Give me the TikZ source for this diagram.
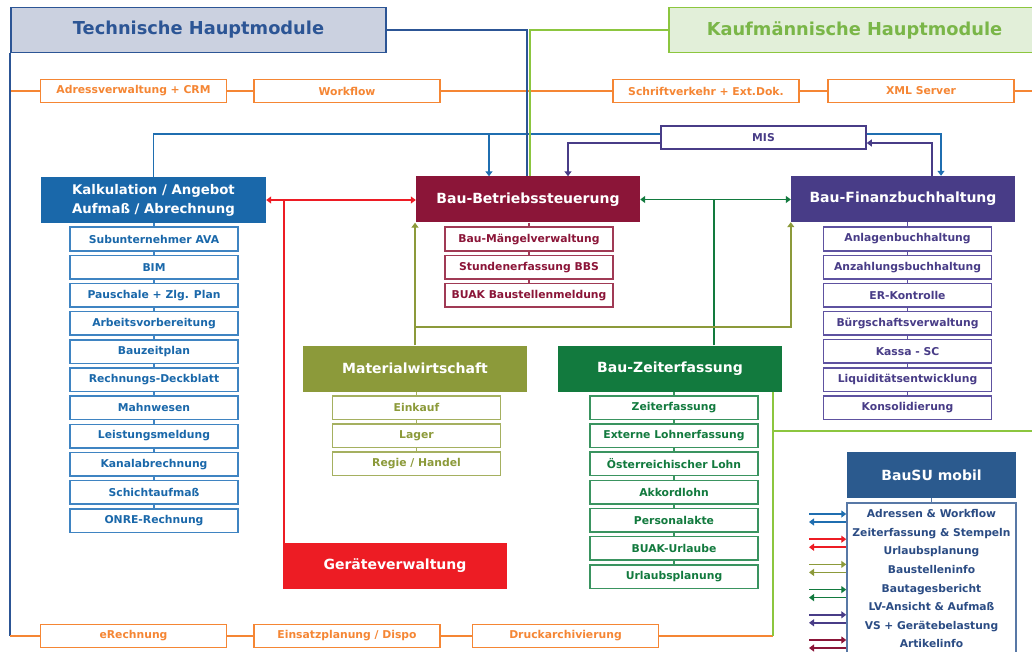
\documentclass[tikz,border=0pt]{standalone}
\usepackage{fontspec}
\setmainfont{DejaVu Sans}
\usetikzlibrary{arrows.meta}

\definecolor{techblau}{HTML}{2C5595}
\definecolor{techfill}{HTML}{CBD1E0}
\definecolor{kalkblau}{HTML}{1A68AA}
\definecolor{kalkrand}{HTML}{3F84C2}
\definecolor{linkblau}{HTML}{1F6EB0}
\definecolor{orangeton}{HTML}{F58634}
\definecolor{kaufgruen}{HTML}{8CC63F}
\definecolor{kauffill}{HTML}{E2EFD9}
\definecolor{kauftext}{HTML}{7AB648}
\definecolor{bbsrot}{HTML}{8B1538}
\definecolor{bbsrand}{HTML}{A03A55}
\definecolor{finlila}{HTML}{483C87}
\definecolor{finrand}{HTML}{5E52A0}
\definecolor{matoliv}{HTML}{8C9A3A}
\definecolor{matrand}{HTML}{A5B060}
\definecolor{zeitgruen}{HTML}{127A3E}
\definecolor{zeitrand}{HTML}{3A9460}
\definecolor{geraetrot}{HTML}{ED1C24}
\definecolor{mobilblau}{HTML}{2B5A8E}
\definecolor{mobilrand}{HTML}{5878A6}
\definecolor{mobiltext}{HTML}{2B4C84}

\tikzset{
	>={Triangle[length=5pt,width=7pt]},
	linie/.style={line width=1.8pt},
	kopf/.style={line width=1.8pt, minimum height=45, inner sep=0pt, font=\bfseries\fontsize{17.8}{20}\selectfont},
	modul/.style={fill=#1, text=white, minimum width=224, minimum height=46, inner sep=0pt, align=center, font=\bfseries\fontsize{14}{19}\selectfont},
	unter/.style 2 args={draw=#1, text=#2, fill=white, line width=1.5pt, minimum width=168, minimum height=23.5, inner sep=0pt, font=\bfseries\fontsize{10.8}{12}\selectfont},
	zusatz/.style={draw=orangeton, text=orangeton, fill=white, line width=1.5pt, minimum width=186, minimum height=23, inner sep=0pt, font=\bfseries\fontsize{10.8}{12}\selectfont},
}

\begin{document}
\begin{tikzpicture}[x=1pt, y=-1pt]
			%%%%% START %%%%%
			\clip (0,0) rectangle (1032,652);
			
			% Hauptmodule
			\node[kopf, draw=techblau, fill=techfill, text=techblau, minimum width=375] (tech) at (198.5,30) {Technische Hauptmodule};
			\node[kopf, draw=kaufgruen, fill=kauffill, text=kauftext, minimum width=371] (kauf) at (854.5,30) {Kaufmännische Hauptmodule};
			
			% Zusatzmodule
			\node[zusatz] (adress) at (133.5,91) {Adressverwaltung + CRM};
			\node[zusatz] (workflow) at (347,91) {Workflow};
			\node[zusatz] (schrift) at (706,91) {Schriftverkehr + Ext.Dok.};
			\node[zusatz] (xml) at (921,91) {XML Server};
			\node[zusatz] (erech) at (133.5,636) {eRechnung};
			\node[zusatz] (einsatz) at (347,636) {Einsatzplanung / Dispo};
			\node[zusatz] (druck) at (565.5,636) {Druckarchivierung};
			
			\node[draw=finlila, text=finlila, fill=white, line width=1.5pt, minimum width=205, minimum height=23, inner sep=0pt, font=\bfseries\fontsize{10.8}{12}\selectfont] (mis) at (763.5,137.5) {MIS};
			
			% Module
			\node[modul=kalkblau, minimum width=225, font=\bfseries\fontsize{13.3}{19}\selectfont] (kalk) at (153.5,200) {Kalkulation / Angebot\\Aufmaß / Abrechnung};
			\node[modul=bbsrot] (bbs) at (528,199.5) {Bau-Betriebssteuerung};
			\node[modul=finlila] (bfb) at (903,199) {Bau-Finanzbuchhaltung};
			\node[modul=matoliv] (mat) at (415,368.5) {Materialwirtschaft};
			\node[modul=zeitgruen] (zeit) at (670,368.5) {Bau-Zeiterfassung};
			\node[modul=geraetrot] (geraet) at (395,566) {Geräteverwaltung};
			\node[modul=mobilblau, minimum width=169] (mobil) at (931.5,475) {BauSU mobil};
			
			% Untermodule
			\foreach \txt [count=\i] in {Subunternehmer AVA, BIM, Pauschale + Zlg. Plan, Arbeitsvorbereitung, Bauzeitplan, Rechnungs-Deckblatt, Mahnwesen, Leistungsmeldung, Kanalabrechnung, Schichtaufmaß, ONRE-Rechnung}
				\node[unter={kalkrand}{kalkblau}] (kalk\i) at (154,{239+28.15*(\i-1)}) {\txt};
			\foreach \txt [count=\i] in {Bau-Mängelverwaltung, Stundenerfassung BBS, BUAK Baustellenmeldung}
				\node[unter={bbsrand}{bbsrot}] (bbs\i) at (529,{239+28.1*(\i-1)}) {\txt};
			\foreach \txt [count=\i] in {Anlagenbuchhaltung, Anzahlungsbuchhaltung, ER-Kontrolle, Bürgschaftsverwaltung, Kassa - SC, Liquiditätsentwicklung, Konsolidierung}
				\node[unter={finrand}{finlila}] (bfb\i) at (907.5,{239+28.1*(\i-1)}) {\txt};
			\foreach \txt [count=\i] in {Einkauf, Lager, Regie / Handel}
				\node[unter={matrand}{matoliv}] (mat\i) at (416.5,{407.5+28.2*(\i-1)}) {\txt};
			\foreach \txt [count=\i] in {Zeiterfassung, Externe Lohnerfassung, Österreichischer Lohn, Akkordlohn, Personalakte, BUAK-Urlaube, Urlaubsplanung}
				\node[unter={zeitrand}{zeitgruen}] (zeit\i) at (674,{407.5+28.17*(\i-1)}) {\txt};
			
			\draw[kalkrand, line width=1.5pt] (kalk.south -| kalk1.north) -- (kalk1.north);
			\foreach \i in {2,...,11} {
				\pgfmathtruncatemacro{\j}{\i-1}
				\draw[kalkrand, line width=1.5pt] (kalk\j.south) -- (kalk\i.north);
			}
			\draw[bbsrand, line width=1.5pt] (bbs.south -| bbs1.north) -- (bbs1.north) (bbs1.south) -- (bbs2.north) (bbs2.south) -- (bbs3.north);
			\draw[finrand, line width=1.5pt] (bfb.south -| bfb1.north) -- (bfb1.north);
			\foreach \i in {2,...,7} {
				\pgfmathtruncatemacro{\j}{\i-1}
				\draw[finrand, line width=1.5pt] (bfb\j.south) -- (bfb\i.north);
			}
			\draw[matrand, line width=1.5pt] (mat.south -| mat1.north) -- (mat1.north) (mat1.south) -- (mat2.north) (mat2.south) -- (mat3.north);
			\draw[zeitrand, line width=1.5pt] (zeit.south -| zeit1.north) -- (zeit1.north);
			\foreach \i in {2,...,7} {
				\pgfmathtruncatemacro{\j}{\i-1}
				\draw[zeitrand, line width=1.5pt] (zeit\j.south) -- (zeit\i.north);
			}
			
			% BauSU mobil Liste
			\node[draw=mobilrand, line width=1.5pt, fill=white, minimum width=169, minimum height=165, inner sep=0pt] (mobill) at (931.5,585.5) {};
			\node[anchor=north, align=center, inner sep=0pt, text=mobiltext, font=\bfseries\fontsize{10.7}{18.57}\selectfont] (mobiltxt) at (931.5,509.5) {Adressen \& Workflow\\Zeiterfassung \& Stempeln\\Urlaubsplanung\\Baustelleninfo\\Bautagesbericht\\LV-Ansicht \& Aufmaß\\VS + Gerätebelastung\\Artikelinfo};
			\draw[mobilrand, line width=1.5pt] (mobil.south) -- (mobil.south |- mobill.north);
			
			% orange Leisten
			\coordinate (lo) at (tech.south west |- adress.west);
			\coordinate (ro) at (1032,91);
			\draw[linie, orangeton] (lo) -- (adress.west) (adress.east) -- (workflow.west) (workflow.east) -- (schrift.west) (schrift.east) -- (xml.west) (xml.east) -- (ro);
			\coordinate (lu) at (tech.south west |- erech.west);
			\coordinate (zk) at ([xshift=-9pt]zeit.south east);
			\draw[linie, techblau] (tech.south west) -- (lu);
			\draw[linie, orangeton] (lu) -- (erech.west) (erech.east) -- (einsatz.west) (einsatz.east) -- (druck.west) (druck.east) -- (zk |- druck.east);
			\coordinate (rg) at (1032,431);
			\draw[linie, kaufgruen] (zk) -- (zk |- druck.east);
			\draw[linie, kaufgruen] (zk |- rg) -- (rg);
			
			% MIS
			\coordinate (misbl) at ([yshift=3.5pt]mis.west);
			\coordinate (misbr) at ([yshift=3.5pt]mis.east);
			\coordinate (mislf) at ([yshift=-5.5pt]mis.west);
			\coordinate (misrf) at ([yshift=-5.5pt]mis.east);
			\coordinate (bbsblau) at ([xshift=-39pt]bbs.north);
			\coordinate (bbslila) at ([xshift=40pt]bbs.north);
			\coordinate (bfbblau) at ([xshift=38pt]bfb.north);
			\coordinate (bfblila) at ([xshift=29pt]bfb.north);
			\draw[linie, linkblau] (kalk.north) |- (misbl);
			\draw[linie, linkblau, ->] (bbsblau |- misbl) -- (bbsblau);
			\draw[linie, linkblau, ->] (misbr) -| (bfbblau);
			\draw[linie, finlila, ->] (mislf) -| (bbslila);
			\draw[linie, finlila, ->] (bfblila) |- (misrf);
			
			% Hauptmodule -> Bau-Betriebssteuerung
			\coordinate (bbstech) at ([xshift=-1pt]bbs.north);
			\coordinate (bbskauf) at ([xshift=2pt]bbs.north);
			\draw[linie, techblau] (tech.east) -| (bbstech);
			\draw[linie, kaufgruen] (kauf.west) -| (bbskauf);
			
			% Geraeteverwaltung
			\coordinate (gr) at ([xshift=1pt]geraet.north west);
			\draw[linie, geraetrot, <->] (kalk.east) -- (kalk.east -| bbs.west);
			\draw[linie, geraetrot] (gr) -- (gr |- kalk.east);
			
			% Bau-Zeiterfassung
			\coordinate (zg) at ([xshift=44pt]zeit.north);
			\draw[linie, zeitgruen, <->] (bbs.east) -- (bbs.east -| bfb.west);
			\draw[linie, zeitgruen] (zg) -- (zg |- bbs.east);
			
			% Materialwirtschaft
			\coordinate (mk) at (mat.north |- 0,327);
			\draw[linie, matoliv, ->] (mat.north) -- (mat.north |- bbs.south);
			\draw[linie, matoliv, ->] (mk) -| (bfb.south west);
			
			% Schnittstellen BauSU mobil
			\foreach \farbe [count=\i] in {linkblau,geraetrot,matoliv,zeitgruen,finlila,bbsrot} {
				\pgfmathsetmacro{\ya}{514+25.2*(\i-1)}
				\pgfmathsetmacro{\yb}{\ya+8}
				\draw[line width=1.6pt, \farbe, ->] (809,\ya) -- (mobill.west |- 0,\ya);
				\draw[line width=1.6pt, \farbe, <-] (809,\yb) -- (mobill.west |- 0,\yb);
			}
			
			%%%%% END %%%%%
\end{tikzpicture}
\end{document}
